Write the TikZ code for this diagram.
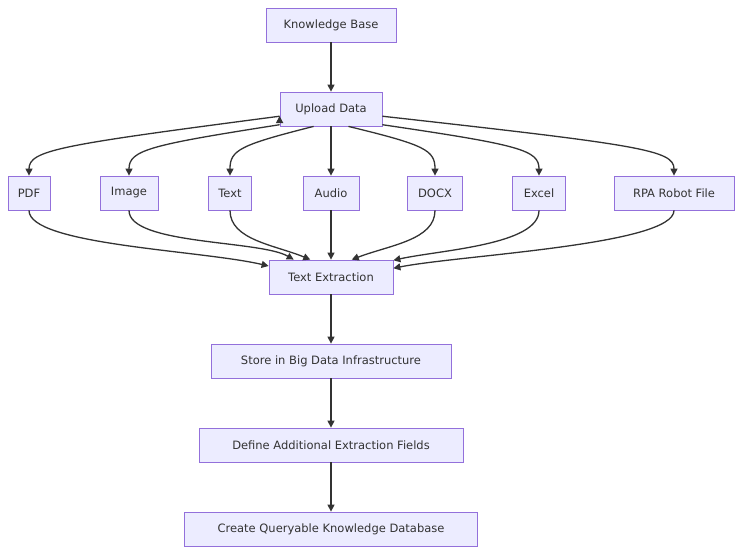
\documentclass[tikz,border=0pt]{standalone}
\usepackage{fontspec}
\setmainfont{DejaVu Sans}
\usetikzlibrary{arrows.meta}
\definecolor{nfill}{HTML}{ECECFF}
\definecolor{nstroke}{HTML}{9370DB}
\definecolor{edge}{HTML}{333333}
\begin{document}
\begin{tikzpicture}[x=1pt,y=-1pt,
  box/.style={draw=nstroke,fill=nfill,line width=0.8pt,minimum height=34pt,inner sep=0pt,font=\fontsize{11.5}{13}\selectfont,text=edge},
  ed/.style={draw=edge,line width=1.3pt,-{Triangle[length=7pt,width=7pt]}}]
\useasboundingbox (0,0) rectangle (741,554);
\node[box,minimum width=130pt] (kb) at (331,25) {Knowledge Base};
\node[box,minimum width=102pt] (up) at (331,109) {Upload Data};
\node[box,minimum width=42pt] (pdf) at (29,193) {PDF};
\node[box,minimum width=58pt] (img) at (129,193) {Image};
\node[box,minimum width=43pt] (txt) at (230,193) {Text};
\node[box,minimum width=56pt] (aud) at (331,193) {Audio};
\node[box,minimum width=55pt] (docx) at (435,193) {DOCX};
\node[box,minimum width=53pt] (xls) at (539,193) {Excel};
\node[box,minimum width=120pt] (rpa) at (674,193) {RPA Robot File};
\node[box,minimum width=124pt] (te) at (331,277) {Text Extraction};
\node[box,minimum width=240pt] (st) at (331,361) {Store in Big Data Infrastructure};
\node[box,minimum width=264pt] (df) at (331,445) {Define Additional Extraction Fields};
\node[box,minimum width=293pt] (cq) at (331,529) {Create Queryable Knowledge Database};
\draw[ed] (kb) -- (up);
\draw[ed] (up.west) ++(0,7) coordinate (u1);
\draw[ed] (up.188) .. controls (60,145) and (29,150) .. (pdf.north);
\draw[ed] (up.197) .. controls (150,145) and (129,150) .. (img.north);
\draw[ed] (up.225) .. controls (240,145) and (230,150) .. (txt.north);
\draw[ed] (up) -- (aud);
\draw[ed] (up.315) .. controls (425,145) and (435,150) .. (docx.north);
\draw[ed] (up.343) .. controls (520,145) and (539,150) .. (xls.north);
\draw[ed] (up.352) .. controls (640,145) and (674,150) .. (rpa.north);
\draw[ed] (pdf.south) .. controls (29,245) and (200,250) .. (te.170);
\draw[ed] (img.south) .. controls (129,245) and (260,240) .. (te.155);
\draw[ed] (txt.south) .. controls (230,240) and (275,245) .. (te.140);
\draw[ed] (aud) -- (te);
\draw[ed] (docx.south) .. controls (435,240) and (390,245) .. (te.40);
\draw[ed] (xls.south) .. controls (539,245) and (440,250) .. (te.15);
\draw[ed] (rpa.south) .. controls (674,245) and (460,255) .. (te.8);
\draw[ed] (te) -- (st);
\draw[ed] (st) -- (df);
\draw[ed] (df) -- (cq);
\end{tikzpicture}
\end{document}
